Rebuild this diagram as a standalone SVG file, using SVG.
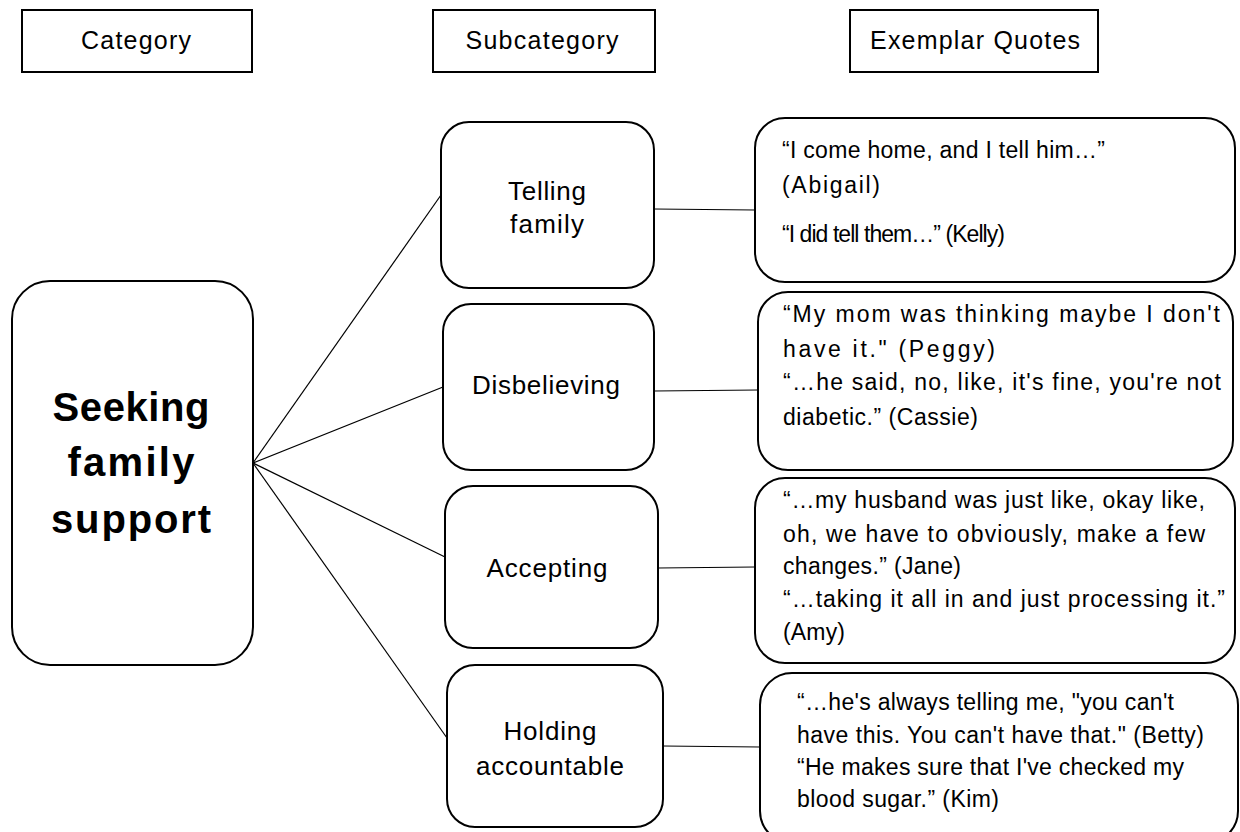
<svg xmlns="http://www.w3.org/2000/svg" width="1240" height="832" viewBox="0 0 1240 832">
<style>
.box{fill:#fff;stroke:#000;stroke-width:2}
.hdr{font-family:"Liberation Sans",Arial,sans-serif;font-size:25px;fill:#000;text-anchor:middle}
.sub{font-family:"Liberation Sans",Arial,sans-serif;font-size:26px;fill:#000;text-anchor:middle}
.q{font-family:"Liberation Sans",Arial,sans-serif;font-size:23px;fill:#000}
.cat{font-family:"Liberation Sans",Arial,sans-serif;font-size:40px;font-weight:bold;fill:#000;text-anchor:middle}
.ln{stroke:#000;stroke-width:1.2;fill:none}
</style>
<rect width="1240" height="832" fill="#fff"/>
<g id="connectors">
<line class="ln" x1="253" y1="463" x2="441" y2="195"/>
<line class="ln" x1="253" y1="463" x2="443" y2="387"/>
<line class="ln" x1="253" y1="463" x2="445" y2="557"/>
<line class="ln" x1="253" y1="463" x2="447" y2="738"/>
<line class="ln" x1="654" y1="209" x2="755" y2="210"/>
<line class="ln" x1="654" y1="391" x2="758" y2="390"/>
<line class="ln" x1="658" y1="568" x2="755" y2="567"/>
<line class="ln" x1="663" y1="746" x2="760" y2="747"/>
</g>
<g id="hdr-category">
<rect class="box" x="22" y="10" width="230" height="62"/>
<text class="hdr" x="136" y="49" textLength="110">Category</text>
</g>
<g id="hdr-subcategory">
<rect class="box" x="433" y="10" width="222" height="62"/>
<text class="hdr" x="542" y="49" textLength="153">Subcategory</text>
</g>
<g id="hdr-quotes">
<rect class="box" x="850" y="10" width="248" height="62"/>
<text class="hdr" x="975" y="49" textLength="210">Exemplar Quotes</text>
</g>
<g id="category">
<rect class="box" x="12" y="281" width="241" height="384" rx="38"/>
<text class="cat" x="131" y="421" textLength="157">Seeking</text>
<text class="cat" x="131" y="476" textLength="127">family</text>
<text class="cat" x="131" y="533" textLength="160">support</text>
</g>
<g id="sub-telling">
<rect class="box" x="441" y="122" width="213" height="166" rx="28"/>
<text class="sub" x="547" y="200" textLength="78">Telling</text>
<text class="sub" x="547" y="233" textLength="74">family</text>
</g>
<g id="sub-disbelieving">
<rect class="box" x="443" y="304" width="211" height="166" rx="28"/>
<text class="sub" x="546" y="394" textLength="148">Disbelieving</text>
</g>
<g id="sub-accepting">
<rect class="box" x="445" y="486" width="213" height="162" rx="28"/>
<text class="sub" x="547" y="577" textLength="121">Accepting</text>
</g>
<g id="sub-holding">
<rect class="box" x="447" y="665" width="216" height="162" rx="28"/>
<text class="sub" x="550" y="740" textLength="93">Holding</text>
<text class="sub" x="550" y="775" textLength="148">accountable</text>
</g>
<g id="quotes-telling">
<rect class="box" x="755" y="118" width="480" height="164" rx="30"/>
<text class="q" x="782" y="158" textLength="323">“I come home, and I tell him…”</text>
<text class="q" x="782" y="193" textLength="98">(Abigail)</text>
<text class="q" x="782" y="242" textLength="223">“I did tell them…” (Kelly)</text>
</g>
<g id="quotes-disbelieving">
<rect class="box" x="758" y="292" width="475" height="178" rx="30"/>
<text class="q" x="783" y="322" textLength="437">“My mom was thinking maybe I don't</text>
<text class="q" x="783" y="357" textLength="212">have it."  (Peggy)</text>
<text class="q" x="783" y="390" textLength="438">“…he said, no, like, it's fine, you're not</text>
<text class="q" x="783" y="425" textLength="195">diabetic.” (Cassie)</text>
</g>
<g id="quotes-accepting">
<rect class="box" x="755" y="478" width="480" height="185" rx="30"/>
<text class="q" x="783" y="508" textLength="422">“…my husband was just like, okay like,</text>
<text class="q" x="783" y="542" textLength="422">oh, we have to obviously, make a few</text>
<text class="q" x="783" y="574" textLength="178">changes.” (Jane)</text>
<text class="q" x="783" y="607" textLength="442">“…taking it all in and just processing it.”</text>
<text class="q" x="783" y="640" textLength="62">(Amy)</text>
</g>
<g id="quotes-holding">
<rect class="box" x="760" y="673" width="478" height="170" rx="32"/>
<text class="q" x="797" y="710" textLength="377">“…he's always telling me, "you can't</text>
<text class="q" x="797" y="743" textLength="407">have this. You can't have that."  (Betty)</text>
<text class="q" x="797" y="775" textLength="387">“He makes sure that I've checked my</text>
<text class="q" x="797" y="807" textLength="202">blood sugar.” (Kim)</text>
</g>
</svg>
